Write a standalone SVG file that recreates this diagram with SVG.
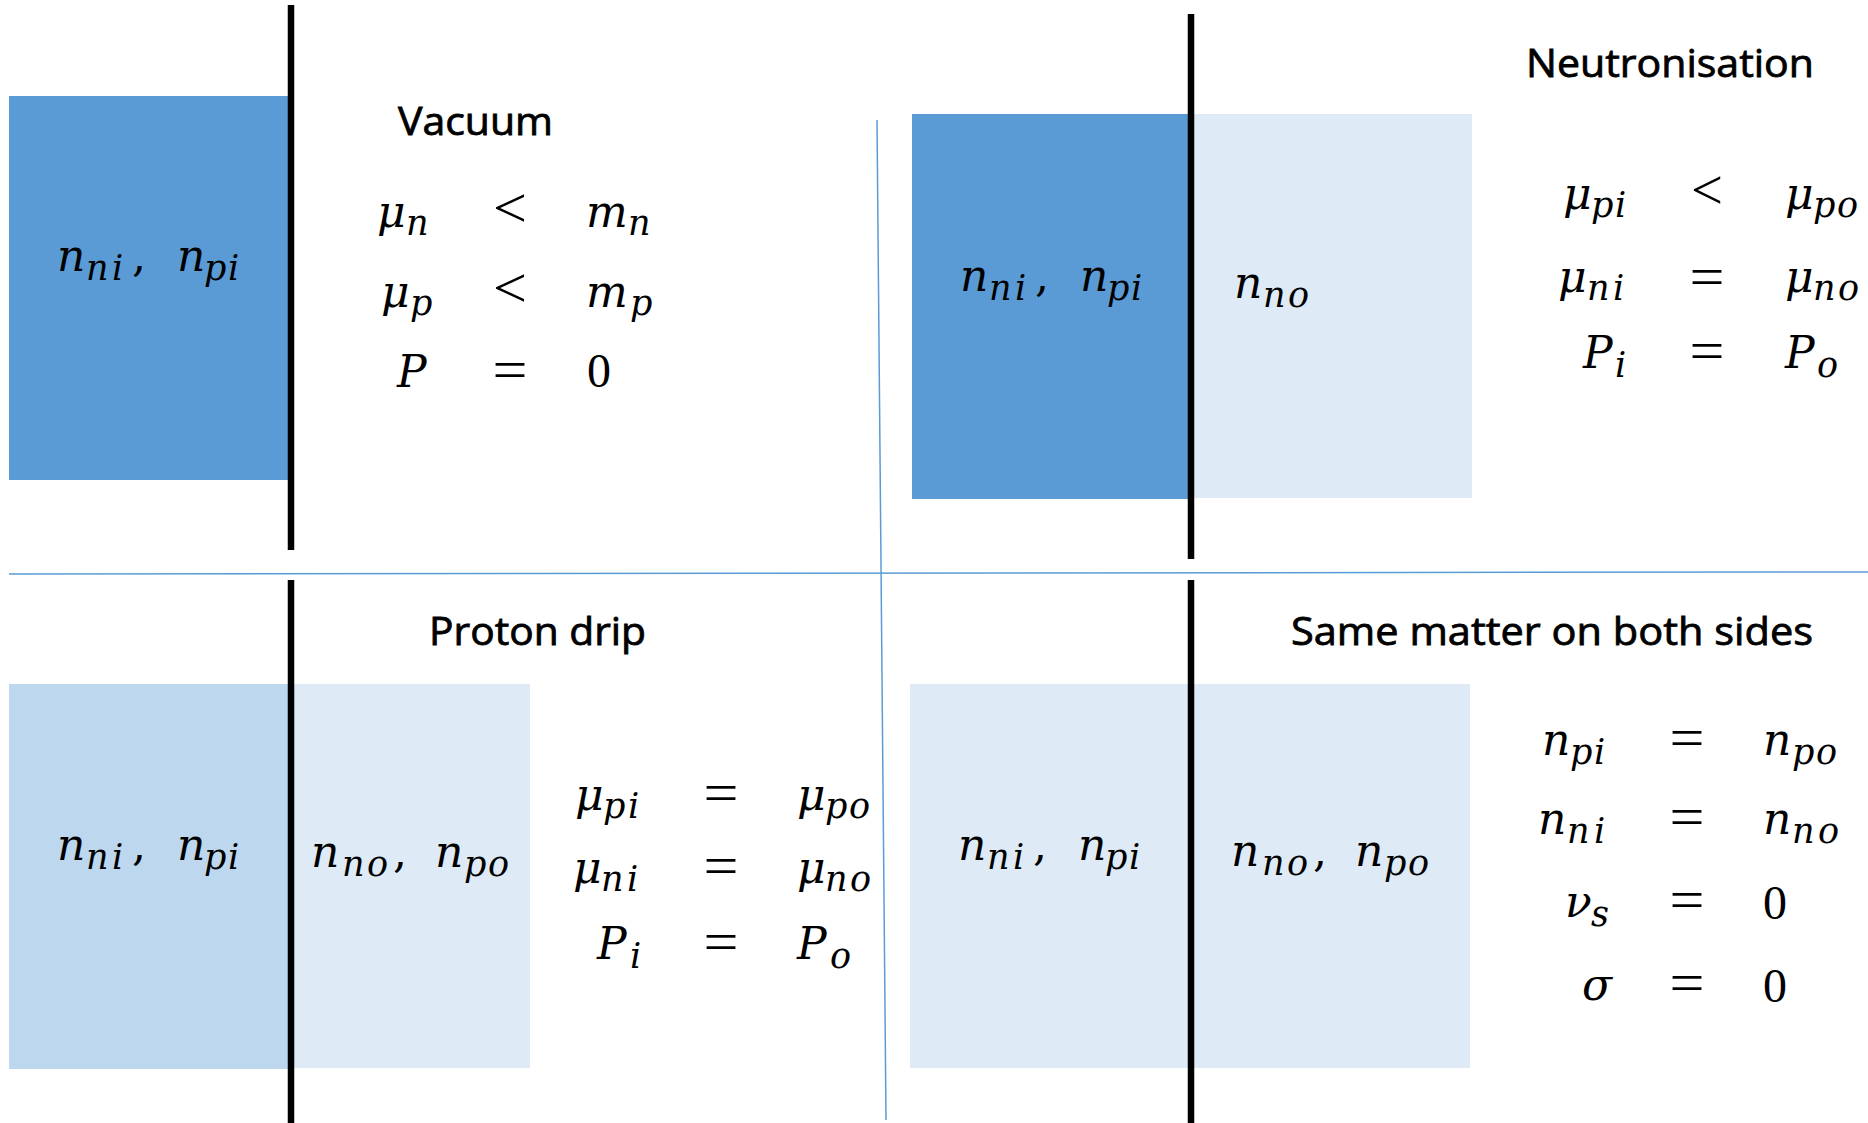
<svg xmlns="http://www.w3.org/2000/svg" width="1868" height="1123" viewBox="0 0 1868 1123">
<style>
.dark{fill:#5B9BD5}
.mid{fill:#BDD7EE}
.light{fill:#DEEBF7}
.wall{stroke:#000;stroke-width:6.5}
.div{stroke:#5B9BD5;stroke-width:1.5}
.t{font-family:"Open Sans","Liberation Sans",sans-serif;font-size:39px;fill:#000;stroke:#000;stroke-width:0.8}
.m{font-family:"DejaVu Serif",serif;font-style:italic;font-size:44px;fill:#000}
.m .s{font-size:35px}
.m .r{font-style:normal}
.d{font-family:"Liberation Serif",serif;font-size:48px;fill:#000}
.op{font-family:"Liberation Serif",serif;font-size:56px;text-anchor:middle;fill:#000}
</style>
<rect width="1868" height="1123" fill="#fff"/>
<g id="dividers">
<line class="div" x1="877" y1="120" x2="886" y2="1120"/>
<line class="div" x1="9" y1="574" x2="1868" y2="572"/>
</g>
<g id="vacuum">
<rect class="dark" x="9" y="96" width="279" height="384"/>
<line class="wall" x1="291" y1="5" x2="291" y2="550"/>
<text class="t" x="398" y="135" textLength="155" lengthAdjust="spacingAndGlyphs">Vacuum</text>
<text class="m" y="271"><tspan x="57">n</tspan><tspan class="s" x="86 112" y="280">ni</tspan><tspan class="r" x="132" y="271">,</tspan><tspan x="177">n</tspan><tspan class="s" x="204 228" y="280">pi</tspan></text>
<text class="m" y="227"><tspan x="377">μ</tspan><tspan class="s" x="406" y="235">n</tspan></text>
<text class="op" x="510" y="227" textLength="34" lengthAdjust="spacingAndGlyphs">&lt;</text>
<text class="m" y="227"><tspan x="586">m</tspan><tspan class="s" x="628" y="235">n</tspan></text>
<text class="m" y="307"><tspan x="381">μ</tspan><tspan class="s" x="410" y="315">p</tspan></text>
<text class="op" x="510" y="307" textLength="34" lengthAdjust="spacingAndGlyphs">&lt;</text>
<text class="m" y="307"><tspan x="586">m</tspan><tspan class="s" x="630" y="315">p</tspan></text>
<text class="m" x="397" y="387">P</text>
<text class="op" x="510" y="389" textLength="35" lengthAdjust="spacingAndGlyphs">=</text>
<text class="d" x="587" y="387">0</text>
</g>
<g id="neutronisation">
<rect class="dark" x="912" y="114" width="278" height="385"/>
<rect class="light" x="1190" y="114" width="282" height="384"/>
<line class="wall" x1="1191" y1="14" x2="1191" y2="559"/>
<text class="t" x="1526" y="77" textLength="288" lengthAdjust="spacingAndGlyphs">Neutronisation</text>
<text class="m" y="291"><tspan x="960">n</tspan><tspan class="s" x="989 1015" y="300">ni</tspan><tspan class="r" x="1035" y="291">,</tspan><tspan x="1080">n</tspan><tspan class="s" x="1107 1131" y="300">pi</tspan></text>
<text class="m" y="298"><tspan x="1234">n</tspan><tspan class="s" x="1263 1288" y="307">no</tspan></text>
<text class="m" y="209"><tspan x="1563">μ</tspan><tspan class="s" x="1591 1615" y="217">pi</tspan></text>
<text class="op" x="1707" y="209" textLength="32" lengthAdjust="spacingAndGlyphs">&lt;</text>
<text class="m" y="209"><tspan x="1785">μ</tspan><tspan class="s" x="1813 1837" y="217">po</tspan></text>
<text class="m" y="292"><tspan x="1558">μ</tspan><tspan class="s" x="1587 1613" y="300">ni</tspan></text>
<text class="op" x="1707" y="296" textLength="35" lengthAdjust="spacingAndGlyphs">=</text>
<text class="m" y="292"><tspan x="1785">μ</tspan><tspan class="s" x="1813 1838" y="300">no</tspan></text>
<text class="m" y="368"><tspan x="1583">P</tspan><tspan class="s" x="1615" y="377">i</tspan></text>
<text class="op" x="1707" y="370" textLength="35" lengthAdjust="spacingAndGlyphs">=</text>
<text class="m" y="368"><tspan x="1785">P</tspan><tspan class="s" x="1817" y="377">o</tspan></text>
</g>
<g id="proton-drip">
<rect class="mid" x="9" y="684" width="280" height="385"/>
<rect class="light" x="289" y="684" width="241" height="384"/>
<line class="wall" x1="291" y1="580" x2="291" y2="1123"/>
<text class="t" x="429" y="645" textLength="217" lengthAdjust="spacingAndGlyphs">Proton drip</text>
<text class="m" y="860"><tspan x="57">n</tspan><tspan class="s" x="86 112" y="869">ni</tspan><tspan class="r" x="132" y="860">,</tspan><tspan x="177">n</tspan><tspan class="s" x="204 228" y="869">pi</tspan></text>
<text class="m" y="867"><tspan x="311">n</tspan><tspan class="s" x="342 367" y="876">no</tspan><tspan class="r" x="393" y="867">,</tspan><tspan x="435">n</tspan><tspan class="s" x="464 488" y="876">po</tspan></text>
<text class="m" y="810"><tspan x="575">μ</tspan><tspan class="s" x="603 628" y="818">pi</tspan></text>
<text class="op" x="721" y="812" textLength="35" lengthAdjust="spacingAndGlyphs">=</text>
<text class="m" y="810"><tspan x="797">μ</tspan><tspan class="s" x="825 849" y="818">po</tspan></text>
<text class="m" y="883"><tspan x="573">μ</tspan><tspan class="s" x="601 627" y="891">ni</tspan></text>
<text class="op" x="721" y="885" textLength="35" lengthAdjust="spacingAndGlyphs">=</text>
<text class="m" y="883"><tspan x="797">μ</tspan><tspan class="s" x="825 850" y="891">no</tspan></text>
<text class="m" y="959"><tspan x="597">P</tspan><tspan class="s" x="630" y="968">i</tspan></text>
<text class="op" x="721" y="961" textLength="35" lengthAdjust="spacingAndGlyphs">=</text>
<text class="m" y="959"><tspan x="797">P</tspan><tspan class="s" x="830" y="968">o</tspan></text>
</g>
<g id="same-matter">
<rect class="light" x="910" y="684" width="560" height="384"/>
<line class="wall" x1="1191" y1="580" x2="1191" y2="1123"/>
<text class="t" x="1291" y="645" textLength="522" lengthAdjust="spacingAndGlyphs">Same matter on both sides</text>
<text class="m" y="860"><tspan x="958">n</tspan><tspan class="s" x="987 1013" y="869">ni</tspan><tspan class="r" x="1033" y="860">,</tspan><tspan x="1078">n</tspan><tspan class="s" x="1105 1129" y="869">pi</tspan></text>
<text class="m" y="866"><tspan x="1231">n</tspan><tspan class="s" x="1262 1287" y="875">no</tspan><tspan class="r" x="1313" y="866">,</tspan><tspan x="1355">n</tspan><tspan class="s" x="1384 1408" y="875">po</tspan></text>
<text class="m" y="755"><tspan x="1542">n</tspan><tspan class="s" x="1570 1594" y="764">pi</tspan></text>
<text class="op" x="1687" y="757" textLength="35" lengthAdjust="spacingAndGlyphs">=</text>
<text class="m" y="755"><tspan x="1763">n</tspan><tspan class="s" x="1792 1816" y="764">po</tspan></text>
<text class="m" y="834"><tspan x="1538">n</tspan><tspan class="s" x="1567 1594" y="843">ni</tspan></text>
<text class="op" x="1687" y="836" textLength="35" lengthAdjust="spacingAndGlyphs">=</text>
<text class="m" y="834"><tspan x="1763">n</tspan><tspan class="s" x="1792 1818" y="843">no</tspan></text>
<text class="m" y="917"><tspan x="1565">ν</tspan><tspan class="s" x="1591" y="926">s</tspan></text>
<text class="op" x="1687" y="919" textLength="35" lengthAdjust="spacingAndGlyphs">=</text>
<text class="d" x="1763" y="919">0</text>
<text class="m" x="1582" y="1000">σ</text>
<text class="op" x="1687" y="1002" textLength="35" lengthAdjust="spacingAndGlyphs">=</text>
<text class="d" x="1763" y="1002">0</text>
</g>
</svg>
